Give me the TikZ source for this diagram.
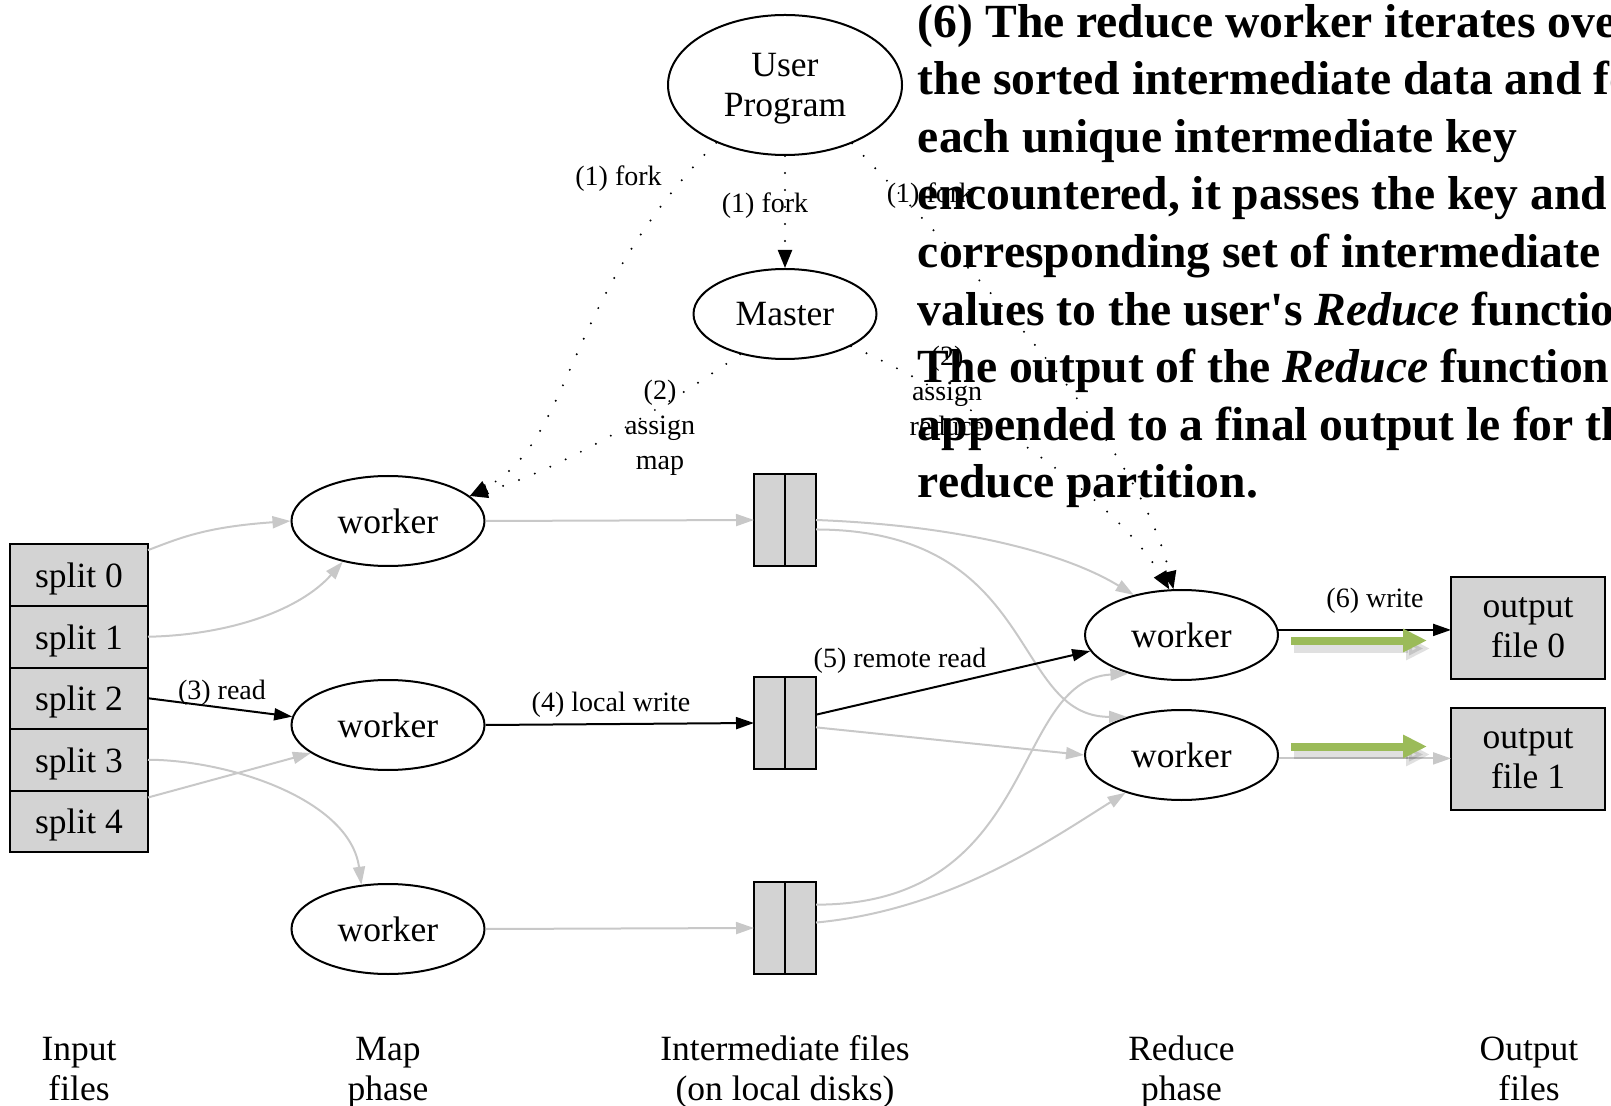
\documentclass[tikz,border=0pt]{standalone}
\usepackage{fontspec}
\setmainfont{Liberation Serif}
\usetikzlibrary{arrows.meta,shapes.geometric,positioning}
\definecolor{edgegray}{RGB}{200,200,200}
\definecolor{boxgray}{RGB}{211,211,211}
\definecolor{arrowgreen}{RGB}{155,187,89}
\begin{document}
\begin{tikzpicture}[x=0.5pt,y=-0.5pt,
  lbl/.style={font=\fontsize{17.75}{20}\selectfont, align=center},
  elab/.style={font=\fontsize{14}{17.5}\selectfont, align=center, inner sep=0pt},
  proc/.style={ellipse, draw, line width=1pt, inner sep=0pt, lbl},
  worker/.style={proc, minimum width=96.5pt, minimum height=45pt},
  split/.style={rectangle, draw, fill=boxgray, line width=1pt, minimum width=69pt,
    minimum height=30.75pt, inner sep=0pt, outer sep=0pt, text depth=0pt, lbl},
  outfile/.style={split, minimum width=77pt, minimum height=51pt},
  ifile/.style={rectangle, draw, fill=boxgray, line width=1pt, minimum width=31pt,
    minimum height=46.25pt, inner sep=0pt, outer sep=0pt,
    path picture={\draw[line width=1pt] (path picture bounding box.north) -- (path picture bounding box.south);}},
  blk/.style={draw=black, line width=1pt, -{Triangle[length=9pt,width=6pt]}},
  gry/.style={draw=edgegray, line width=1pt, -{Triangle[length=9pt,width=6pt]}},
  ctl/.style={line width=1.1pt, dash pattern=on 0pt off 8.5pt, line cap=round,
    -{Triangle[length=9pt,width=7pt]}},
  greenarr/.style={draw=arrowgreen, line width=4pt, -{Triangle[length=12pt,width=11pt]}},
  note/.style={font=\bfseries\fontsize{23.8}{28.8}\selectfont, align=left, inner sep=0pt}]
\useasboundingbox (0,0) rectangle (1611,1106);
\clip (0,0) rectangle (1611,1106);

% master side
\node[proc, minimum width=117pt, minimum height=70pt, text depth=0pt] (user) at (785,85) {User\\Program};
\node[proc, minimum width=91.5pt, minimum height=45pt] (master) at (785,314) {Master};

% input splits
\node[split] (s0) at (79,575.25) {split 0};
\node[split, below=0pt of s0] (s1) {split 1};
\node[split, below=0pt of s1] (s2) {split 2};
\node[split, below=0pt of s2] (s3) {split 3};
\node[split, below=0pt of s3] (s4) {split 4};

% map workers and their files
\node[worker] (w1) at (388,521) {worker};
\node[worker] (w2) at (388,725) {worker};
\node[worker] (w3) at (388,929) {worker};
\node[ifile] (f1) at (785,520) {};
\node[ifile] (f2) at (785,723) {};
\node[ifile] (f3) at (785,928) {};

% reduce workers and outputs
\node[worker] (rw1) at (1181.5,635) {worker};
\node[worker] (rw2) at (1181.5,755) {worker};
\node[outfile] (o0) at (1528,628) {output\\file 0};
\node[outfile] (o1) at (1528,759) {output\\file 1};

% fork and assign
\draw[ctl] (user.south) -- (master.north);
\draw[ctl] (user.220) .. controls (560,300) and (575,440) .. (w1.17);
\draw[ctl] (master.222) .. controls (660,410) and (560,470) .. (w1.17);
\draw[ctl] (user.-41) .. controls (950,250) and (1135,430) .. (rw1.100);
\draw[ctl] (master.-26) .. controls (950,390) and (1110,490) .. (rw1.105);
\node[elab] (forkl) at (618.5,179) {(1) fork};
\node[elab] (forkm) at (765,206) {(1) fork};
\node[elab] (forkr) at (930,196) {(1) fork};
\node[elab] (asgmap) at (660,428) {(2)\\assign\\map};
\node[elab] (asgred) at (947,391) {(2)\\assign\\reduce};

% data flow
\draw[gry] (s0.20) .. controls (180,538) and (205,527) .. (w1.west);
\draw[gry] (s1.east) .. controls (230,635) and (300,610) .. (w1.222);
\draw[blk] (s2.east) -- (w2.175);
\draw[gry] (s3.east) .. controls (230,760) and (350,800) .. (w3.121);
\draw[gry] (s4.19) -- (w2.200);
\draw[gry] (w1.east) -- (f1.west);
\draw[blk] (w2.east) -- (f2.west);
\draw[gry] (w3.east) -- (f3.west);
\draw[gry] (f1.east) .. controls (950,525) and (1060,550) .. (rw1.140);
\draw[gry] (f1.-17) .. controls (1040,530) and (1010,717) .. (rw2.145);
\draw[blk] (f2.15) -- (rw1.190);
\draw[gry] (f2.-8) -- (rw2.west);
\draw[gry] (f3.37) .. controls (1040,905) and (1010,680) .. (rw1.216);
\draw[gry] (f3.10) .. controls (950,910) and (1050,840) .. (rw2.214);
\draw[blk] (rw1.3) -- (rw1.3 -| o0.west);
\draw[gry] (rw2.-2) -- (rw2.-2 -| o1.west);
\node[elab] (read) at (222,693) {(3) read};
\node[elab] (lwrite) at (611,705) {(4) local write};
\node[elab] (rread) at (900,660.5) {(5) remote read};
\node[elab] (write) at (1375,601) {(6) write};

% green arrows
\coordinate (g0a) at (1291,640.5);
\coordinate (g0b) at (1427,640.5);
\coordinate (g1a) at (1291,746.5);
\coordinate (g1b) at (1427,746.5);
\draw[greenarr, draw=black, opacity=0.12] ([shift={(3,8)}]g0a) -- ([shift={(3,8)}]g0b);
\draw[greenarr, draw=black, opacity=0.12] ([shift={(3,8)}]g1a) -- ([shift={(3,8)}]g1b);
\draw[greenarr] (g0a) -- (g0b);
\draw[greenarr] (g1a) -- (g1b);

% phase captions
\node[lbl, anchor=base] (cin) at (79,1100) {Input\\files};
\node[lbl, anchor=base] (cmap) at (388,1100) {Map\\phase};
\node[lbl, anchor=base] (cmid) at (785,1100) {Intermediate files\\(on local disks)};
\node[lbl, anchor=base] (cred) at (1181.5,1100) {Reduce\\phase};
\node[lbl, anchor=base] (cout) at (1529,1100) {Output\\files};

% step 6 text
\node[note, anchor=base west] (step6) at (917.5,498) {(6) The reduce worker iterates over\\
the sorted intermediate data and for\\
each unique intermediate key\\
encountered, it passes the key and the\\
corresponding set of intermediate\\
values to the user\textquotesingle s \textit{Reduce} function.\\
The output of the \textit{Reduce} function is\\
appended to a final output le for this\\
reduce partition.};
\end{tikzpicture}
\end{document}
